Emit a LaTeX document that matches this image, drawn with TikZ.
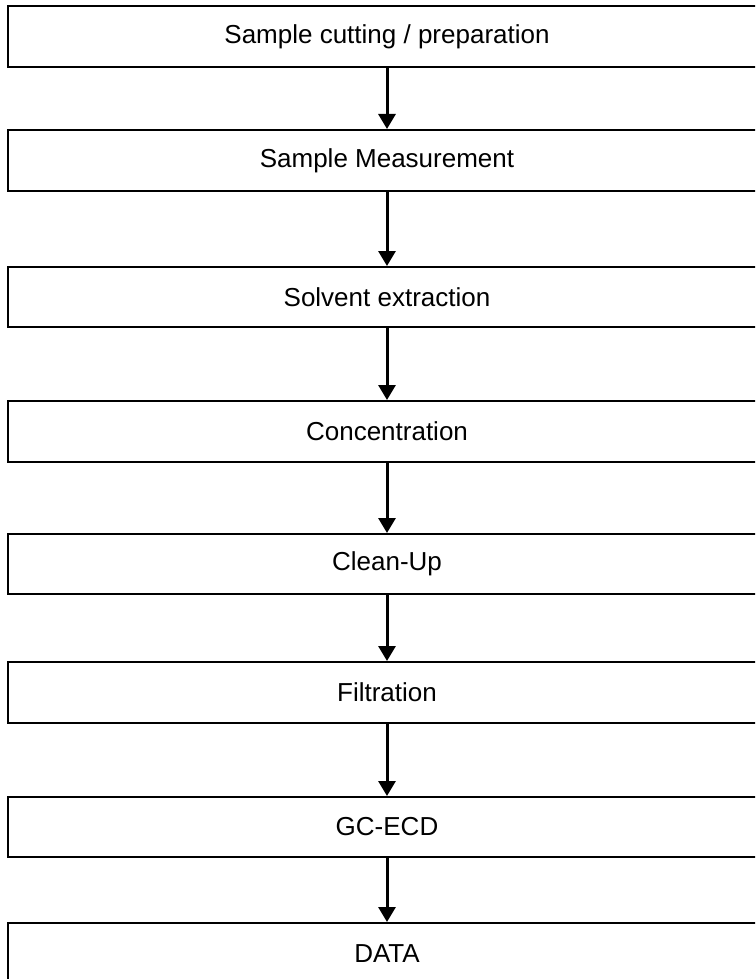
\documentclass[tikz,border=0pt]{standalone}
\usepackage{fontspec}
\setmainfont{Liberation Sans}
\usetikzlibrary{arrows.meta}
\begin{document}
\begin{tikzpicture}[x=1pt,y=-1pt,
  stepbox/.style={draw=black,line width=2pt,minimum width=758pt,minimum height=61pt,inner sep=0pt,font=\fontsize{26}{30}\selectfont},
  flow/.style={line width=3pt,-{Triangle[length=15pt,width=17pt]}}]
\useasboundingbox (0,0) rectangle (755,979);
\clip (0,0) rectangle (755,979);
\fill[white] (0,0) rectangle (755,979);
\node[stepbox] (b1) at (387,36.5) {Sample cutting / preparation};
\node[stepbox] (b2) at (387,160.5) {Sample Measurement};
\node[stepbox,minimum height=60pt] (b3) at (387,297) {Solvent extraction};
\node[stepbox] (b4) at (387,431.5) {Concentration};
\node[stepbox,minimum height=60pt] (b5) at (387,564) {Clean-Up};
\node[stepbox] (b6) at (387,692.5) {Filtration};
\node[stepbox,minimum height=60pt] (b7) at (387,827) {GC-ECD};
\node[stepbox] (b8) at (387,953.5) {DATA};
\draw[flow] (b1.south) -- (b2.north);
\draw[flow] (b2.south) -- (b3.north);
\draw[flow] (b3.south) -- (b4.north);
\draw[flow] (b4.south) -- (b5.north);
\draw[flow] (b5.south) -- (b6.north);
\draw[flow] (b6.south) -- (b7.north);
\draw[flow] (b7.south) -- (b8.north);
\end{tikzpicture}
\end{document}
